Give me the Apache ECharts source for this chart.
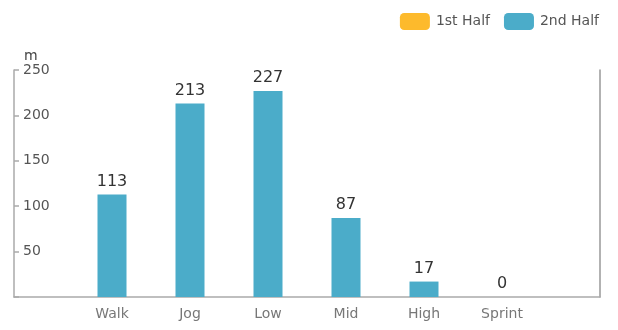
<!DOCTYPE html>
<html><head><meta charset="utf-8">
<script src="https://cdn.jsdelivr.net/npm/echarts@6/dist/echarts.min.js"></script>
<style>html,body{margin:0;padding:0;background:#fff}#c{width:618px;height:330px}</style>
</head><body><div id="c"></div>
<script>
const categories = ["Walk", "Jog", "Low", "Mid", "High", "Sprint"];
const firstHalf = [];
const secondHalf = [113, 213, 227, 87, 17, 0];
const yTicks = { min: 0, max: 250, interval: 50 };
const seriesNames = ["1st Half", "2nd Half"];
const unit = "m";

const FONT = "DejaVu Sans";
const chart = echarts.init(document.getElementById('c'), null, { renderer: 'canvas' });
chart.setOption({
  animation: false,
  textStyle: { fontFamily: FONT },
  legend: {
    right: 14, top: 8,
    itemWidth: 30, itemHeight: 17, itemGap: 14,
    icon: 'roundRect',
    textStyle: { fontSize: 14, color: '#555', fontFamily: FONT, padding: [0, 0, 0, 1] },
    data: seriesNames
  },
  grid: [
    { left: 14, right: 18, top: 70, bottom: 33, containLabel: false },
    { left: 73, right: 77, top: 70, bottom: 33, containLabel: false }
  ],
  xAxis: [
    { gridIndex: 0, type: 'category', data: [''], axisLine: { lineStyle: { color: '#aaa', width: 1.5 } },
      axisTick: { show: false }, axisLabel: { show: false } },
    { gridIndex: 1, type: 'category', data: categories, axisLine: { show: false }, axisTick: { show: false },
      axisLabel: { color: '#777', fontSize: 14, margin: 10, fontFamily: FONT } }
  ],
  yAxis: [
    { gridIndex: 0, type: 'value', min: yTicks.min, max: yTicks.max, interval: yTicks.interval,
      name: unit, nameGap: 6, nameTextStyle: { color: '#444', fontSize: 14, align: 'left', padding: [0, 0, 0, 10] },
      axisLine: { show: true, lineStyle: { color: '#aaa', width: 1.5 } },
      axisTick: { show: true, inside: true, length: 5, lineStyle: { color: '#aaa', width: 1.5 } },
      axisLabel: { inside: true, margin: 9, color: '#555', fontSize: 14, fontFamily: FONT,
        formatter: v => v === 0 ? '' : String(v) },
      splitLine: { show: false } },
    { gridIndex: 0, type: 'value', position: 'right', min: yTicks.min, max: yTicks.max, interval: yTicks.interval,
      axisLine: { show: true, lineStyle: { color: '#999', width: 1.5 } },
      axisTick: { show: false }, axisLabel: { show: false }, splitLine: { show: false } },
    { gridIndex: 1, type: 'value', min: yTicks.min, max: yTicks.max, interval: yTicks.interval, show: false,
      splitLine: { show: false } }
  ],
  series: [
    { name: seriesNames[0], type: 'bar', xAxisIndex: 0, yAxisIndex: 0, data: firstHalf,
      itemStyle: { color: '#FDBA2C' } },
    { name: seriesNames[1], type: 'bar', xAxisIndex: 1, yAxisIndex: 2, data: secondHalf, barWidth: 29,
      itemStyle: { color: '#4BACC9' },
      label: { show: true, position: 'top', distance: 5, color: '#333', fontSize: 16, fontFamily: FONT } }
  ]
});
</script></body></html>
